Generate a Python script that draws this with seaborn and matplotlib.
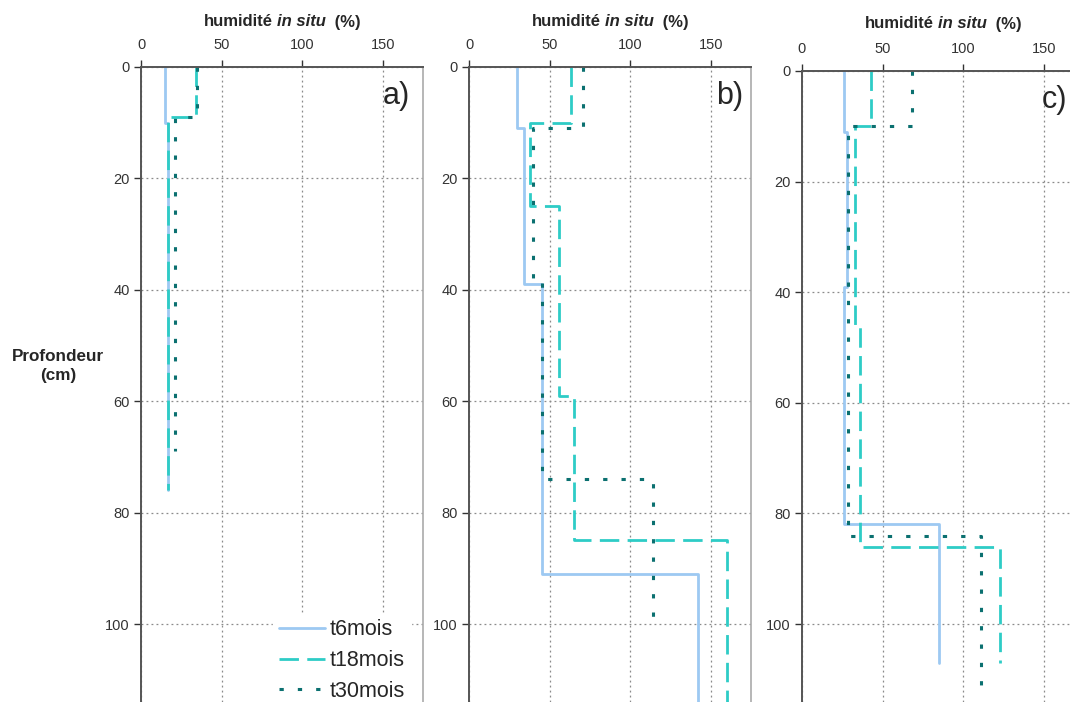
import matplotlib
matplotlib.use("Agg")
import matplotlib.pyplot as plt
import seaborn as sns
from matplotlib.offsetbox import TextArea, HPacker, AnnotationBbox

sns.set_style("white")
plt.rcParams['font.family'] = ['Liberation Sans', 'DejaVu Sans']

# profils d'humidite : profondeurs des limites de couches (cm) et valeurs (%) par couche
series = ["t6mois", "t18mois", "t30mois"]

a_t6_depth = [0, 10, 76]
a_t6_val = [15, 17]
a_t18_depth = [0, 9, 76]
a_t18_val = [34, 17]
a_t30_depth = [0, 9, 69]
a_t30_val = [35, 21]

b_t6_depth = [0, 11, 39, 91, 120]
b_t6_val = [30, 34, 45, 142]
b_t18_depth = [0, 10, 25, 59, 85, 120]
b_t18_val = [63, 38, 56, 65, 160]
b_t30_depth = [0, 11, 38, 74, 101]
b_t30_val = [71, 40, 45, 114]

c_t6_depth = [0, 11, 39, 82, 107]
c_t6_val = [26, 28, 26, 85]
c_t18_depth = [0, 10, 46, 86, 107]
c_t18_val = [43, 33, 36, 123]
c_t30_depth = [0, 10, 84, 111]
c_t30_val = [68, 28.5, 111]

panels = [
    ("a)", [(a_t6_val, a_t6_depth), (a_t18_val, a_t18_depth), (a_t30_val, a_t30_depth)]),
    ("b)", [(b_t6_val, b_t6_depth), (b_t18_val, b_t18_depth), (b_t30_val, b_t30_depth)]),
    ("c)", [(c_t6_val, c_t6_depth), (c_t18_val, c_t18_depth), (c_t30_val, c_t30_depth)]),
]

colors = ["#9DC9F2", "#2ECCC6", "#0B7070"]
styles = ["-", (0, (7, 3)), (0, (1.4, 4.6))]
widths = [2.0, 2.0, 2.2]


def steps(vals, depths):
    xs, ys = [], []
    for i, v in enumerate(vals):
        xs += [v, v]
        ys += [depths[i], depths[i + 1]]
    # horizontal joins come from consecutive points
    return xs, ys


fig = plt.figure(figsize=(10.7, 7.02), dpi=100)
W, H = 1070, 702
# axes boxes in pixels: left, top, bottom depth limit
boxes = [(141, 67, 114.0), (469, 67, 114.0), (802, 71, 114.1)]
label_x = [0.955, 0.972, 0.94]

for k, (tag, profs) in enumerate(panels):
    left, top, ymax = boxes[k]
    ax = fig.add_axes([left / W, 0, 282 / W, 1 - top / H])
    for j, (vals, depths) in enumerate(profs):
        xs, ys = steps(vals, depths)
        sns.lineplot(x=xs, y=ys, sort=False, estimator=None, ax=ax,
                     color=colors[j], linewidth=widths[j], linestyle=styles[j],
                     label=series[j] if k == 0 else None)
    ax.set_xlim(0, 175)
    ax.set_ylim(ymax, 0)
    ax.set_xticks([0, 50, 100, 150])
    ax.set_yticks([0, 20, 40, 60, 80, 100])
    ax.xaxis.tick_top()
    ax.tick_params(axis="both", direction="out", length=5, width=1, pad=6,
                   labelsize=10.5, colors="#333333", top=True, left=True,
                   bottom=False, right=False)
    ax.tick_params(axis="y", pad=3)
    ax.grid(True, color="#8a8a8a", linestyle=(0, (1.5, 2.5)), linewidth=0.9)
    ax.spines["bottom"].set_visible(False)
    ax.spines["left"].set_color("#555555")
    ax.spines["top"].set_color("#555555")
    ax.spines["left"].set_linewidth(1.4)
    ax.spines["top"].set_linewidth(1.4)
    ax.spines["right"].set_color("#aaaaaa")
    ax.spines["right"].set_linewidth(1.2)
    ax.set_xlabel("")
    ax.set_ylabel("")
    ax.text(label_x[k], 1 - 29 / (H - top), tag, transform=ax.transAxes,
            ha="right", va="center", fontsize=22)

    # title with italic "in situ"
    parts = [
        TextArea("humidité", textprops=dict(fontsize=12, fontweight="bold")),
        TextArea("in situ", textprops=dict(fontsize=12, fontweight="bold", fontstyle="italic")),
        TextArea(" (%)", textprops=dict(fontsize=12, fontweight="bold")),
    ]
    pack = HPacker(children=parts, align="baseline", pad=0, sep=3)
    ty = 1 - (22 if k < 2 else 24) / H
    ab = AnnotationBbox(pack, ((left + 141) / W, ty), xycoords="figure fraction",
                        frameon=False, box_alignment=(0.5, 0.5))
    fig.add_artist(ab)

    if k == 0:
        leg = ax.legend(loc="upper left", bbox_to_anchor=(273 / W, 1 - 613 / H),
                        bbox_transform=fig.transFigure, fontsize=15.5, frameon=True,
                        handlelength=2.1, handletextpad=0.22, labelspacing=0.45,
                        borderpad=0.3, borderaxespad=0)
        leg.get_frame().set_edgecolor("white")
        leg.get_frame().set_facecolor("white")
        leg.get_frame().set_alpha(1)
    else:
        if ax.get_legend() is not None:
            ax.get_legend().remove()

fig.text(58 / W, 1 - 366 / H, "Profondeur\n(cm)", ha="center", va="center",
         fontsize=12.3, fontweight="bold", linespacing=1.3)

fig.savefig("out.png", dpi=100)
